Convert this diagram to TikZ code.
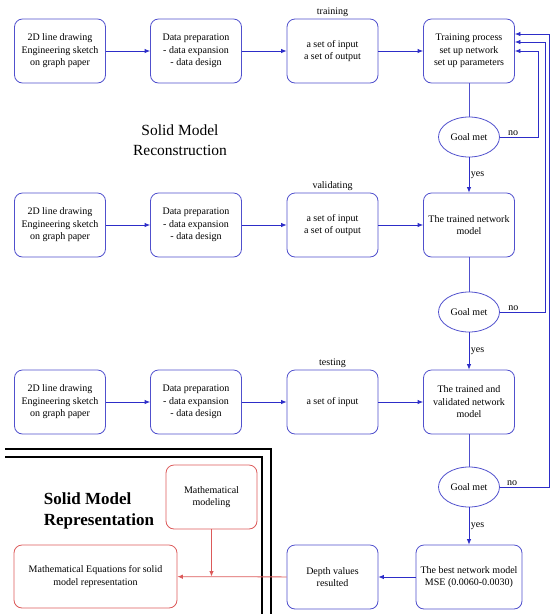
\documentclass[tikz,border=0pt]{standalone}
\usepackage{fontspec}
\setmainfont{Liberation Serif}
\usetikzlibrary{arrows.meta,shapes.geometric}
\definecolor{netblue}{RGB}{80,80,205}
\definecolor{arrblue}{RGB}{45,45,200}
\definecolor{modred}{RGB}{220,90,90}
\begin{document}
\begin{tikzpicture}[
	x=1pt, y=-1pt,
	box/.style={rectangle, rounded corners=8pt, draw=netblue, line width=0.8pt, minimum width=91pt, minimum height=64pt, align=center, font=\fontsize{10}{12.5}\selectfont},
	goal/.style={ellipse, draw=netblue, line width=0.8pt, minimum width=61pt, minimum height=40pt, inner sep=0pt, font=\fontsize{10}{12}\selectfont},
	redbox/.style={box, draw=modred},
	lbl/.style={font=\fontsize{10}{12}\selectfont, inner sep=1.5pt},
	arr/.style={draw=arrblue, line width=0.8pt, -{Latex[length=5.5pt,width=4.5pt]}},
	redarr/.style={draw=modred, line width=0.8pt, -{Latex[length=5.5pt,width=4.5pt]}}
	]
	\useasboundingbox (0,0) rectangle (550,614);
	% --- training ---
	\node[box] (a1) at (60,51) {2D line drawing\\Engineering sketch\\on graph paper};
	\node[box] (b1) at (196,51) {Data preparation\\- data expansion\\- data design};
	\node[box, label={[lbl]above:training}] (c1) at (332.5,51) {a set of input\\a set of output};
	\node[box] (d1) at (469,51) {Training process\\set up network\\set up parameters};
	\node[goal] (g1) at (469,137) {Goal met};
	\draw[arr] (a1) -- (b1); \draw[arr] (b1) -- (c1); \draw[arr] (c1) -- (d1);
	\draw[netblue, line width=0.8pt] (d1) -- (g1);
	\node[font=\fontsize{15.5}{20}\selectfont, align=center] (rec) at (180,140) {Solid Model\\Reconstruction};
	% --- validating ---
	\node[box] (a2) at (60,225) {2D line drawing\\Engineering sketch\\on graph paper};
	\node[box] (b2) at (196,225) {Data preparation\\- data expansion\\- data design};
	\node[box, label={[lbl]above:validating}] (c2) at (332.5,225) {a set of input\\a set of output};
	\node[box] (d2) at (469,225) {The trained network\\model};
	\node[goal] (g2) at (469,312) {Goal met};
	\draw[arr] (a2) -- (b2); \draw[arr] (b2) -- (c2); \draw[arr] (c2) -- (d2);
	\draw[arr] (g1) -- node[lbl, right]{yes} (d2);
	\draw[netblue, line width=0.8pt] (d2) -- (g2);
	% --- testing ---
	\node[box] (a3) at (60,402) {2D line drawing\\Engineering sketch\\on graph paper};
	\node[box] (b3) at (196,402) {Data preparation\\- data expansion\\- data design};
	\node[box, label={[lbl]above:testing}] (c3) at (332.5,402) {a set of input};
	\node[box] (d3) at (469,402) {The trained and\\validated network\\model};
	\node[goal] (g3) at (469,487) {Goal met};
	\draw[arr] (a3) -- (b3); \draw[arr] (b3) -- (c3); \draw[arr] (c3) -- (d3);
	\draw[arr] (g2) -- node[lbl, right]{yes} (d3);
	\draw[netblue, line width=0.8pt] (d3) -- (g3);
	% --- feedback ---
	\draw[arr] (g1.east) -- ++(38,0) node[lbl, above, pos=0.35]{no} |- (d1.east);
	\draw[arr] (g2.east) -- ++(45,0) node[lbl, above, pos=0.3]{no} |- ([yshift=9pt]d1.east);
	\draw[arr] (g3.east) -- ++(49,0) node[lbl, above, pos=0.25]{no} |- ([yshift=17pt]d1.east);
	% --- result ---
	\node[box, minimum width=106pt] (best) at (469,577) {The best network model\\MSE (0.0060-0.0030)};
	\node[box] (depth) at (332.5,577) {Depth values\\resulted};
	\draw[arr] (g3) -- node[lbl, right]{yes} (best);
	\draw[arr] (best) -- (depth);
	% --- representation ---
	\draw[line width=2.4pt] (5,449) -- (271,449) -- (271,614);
	\draw[line width=1.4pt] (5,457) -- (262,457) -- (262,614);
	\node[font=\fontsize{17}{21}\bfseries\selectfont, align=left] (rep) at (99,511) {Solid Model\\Representation};
	\node[redbox] (model) at (211.5,497) {Mathematical\\modeling};
	\node[redbox, minimum width=163pt, minimum height=63pt] (eqn) at (95.5,576.5) {Mathematical Equations for solid\\model representation};
	\draw[redarr] (depth) -- (eqn);
	\draw[redarr] (model) -- (model.south |- eqn.east);
\end{tikzpicture}
\end{document}
